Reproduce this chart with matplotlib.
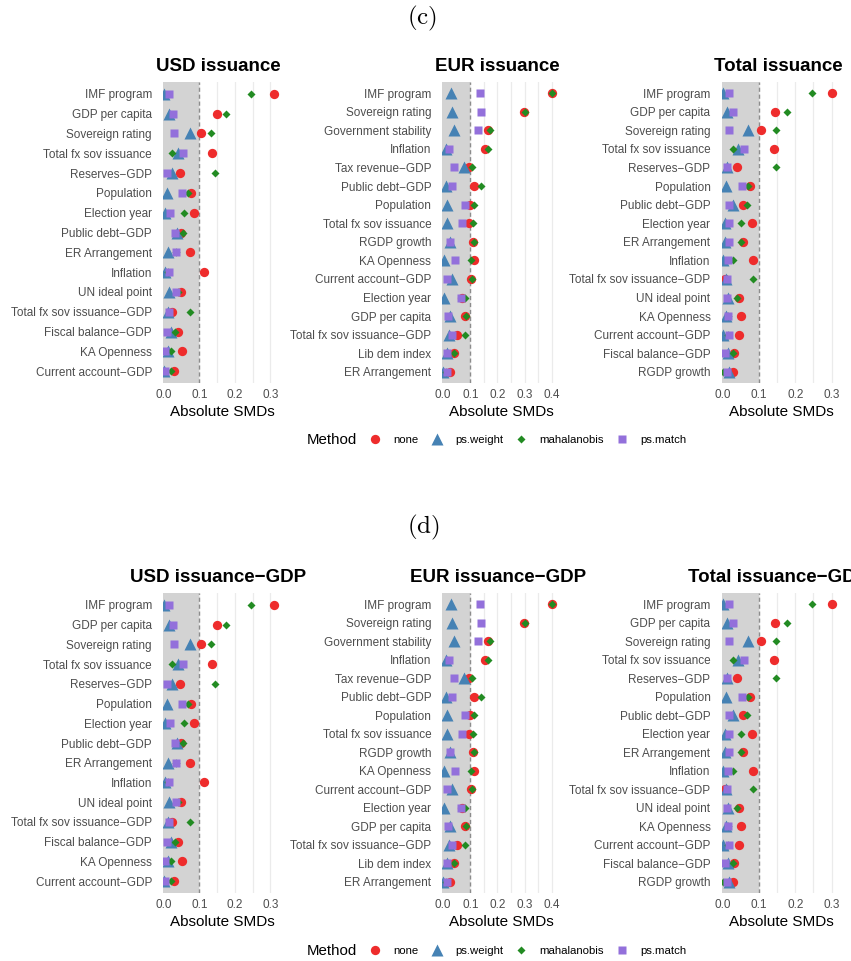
import matplotlib
matplotlib.use("Agg")
import matplotlib.pyplot as plt
import numpy as np
from matplotlib.lines import Line2D

plt.rcParams["font.family"] = ["Liberation Sans", "DejaVu Sans"]
plt.rcParams["mathtext.fontset"] = "cm"

# ── data (absolute SMDs per covariate) ───────────────────────────────────
METHODS = ["none", "ps.weight", "mahalanobis", "ps.match"]

USD_VARS = ["IMF program", "GDP per capita", "Sovereign rating", "Total fx sov issuance",
            "Reserves−GDP", "Population", "Election year", "Public debt−GDP",
            "ER Arrangement", "Inflation", "UN ideal point", "Total fx sov issuance−GDP",
            "Fiscal balance−GDP", "KA Openness", "Current account−GDP"]
USD_NONE = [0.310, 0.150, 0.104, 0.136, 0.045, 0.077, 0.084, 0.048, 0.072, 0.113, 0.049, 0.023, 0.040, 0.052, 0.028]
USD_WEIGHT = [0.000, 0.014, 0.074, 0.040, 0.022, 0.009, 0.003, 0.036, 0.010, 0.003, 0.015, 0.010, 0.019, 0.012, 0.000]
USD_MAHAL = [0.245, 0.176, 0.133, 0.023, 0.143, 0.067, 0.057, 0.053, 0.033, 0.012, 0.040, 0.072, 0.030, 0.020, 0.019]
USD_MATCH = [0.015, 0.026, 0.029, 0.054, 0.007, 0.052, 0.018, 0.031, 0.035, 0.013, 0.033, 0.015, 0.009, 0.004, 0.004]

EUR_VARS = ["IMF program", "Sovereign rating", "Government stability", "Inflation",
            "Tax revenue−GDP", "Public debt−GDP", "Population", "Total fx sov issuance",
            "RGDP growth", "KA Openness", "Current account−GDP", "Election year",
            "GDP per capita", "Total fx sov issuance−GDP", "Lib dem index", "ER Arrangement"]
EUR_NONE = [0.400, 0.299, 0.165, 0.156, 0.096, 0.113, 0.099, 0.094, 0.111, 0.113, 0.102, 0.068, 0.082, 0.050, 0.040, 0.025]
EUR_WEIGHT = [0.028, 0.031, 0.041, 0.009, 0.078, 0.009, 0.013, 0.015, 0.025, 0.003, 0.031, 0.004, 0.025, 0.020, 0.013, 0.000]
EUR_MAHAL = [0.403, 0.301, 0.172, 0.166, 0.105, 0.138, 0.112, 0.111, 0.112, 0.102, 0.106, 0.081, 0.084, 0.080, 0.039, 0.010]
EUR_MATCH = [0.136, 0.140, 0.129, 0.023, 0.041, 0.033, 0.080, 0.070, 0.025, 0.044, 0.015, 0.066, 0.019, 0.034, 0.015, 0.015]

TOT_VARS = ["IMF program", "GDP per capita", "Sovereign rating", "Total fx sov issuance",
            "Reserves−GDP", "Population", "Public debt−GDP", "Election year",
            "ER Arrangement", "Inflation", "Total fx sov issuance−GDP", "UN ideal point",
            "KA Openness", "Current account−GDP", "Fiscal balance−GDP", "RGDP growth"]
TOT_NONE = [0.300, 0.144, 0.106, 0.141, 0.040, 0.076, 0.056, 0.080, 0.057, 0.083, 0.005, 0.045, 0.050, 0.046, 0.032, 0.029]
TOT_WEIGHT = [0.000, 0.011, 0.069, 0.041, 0.011, 0.009, 0.029, 0.006, 0.006, 0.000, 0.008, 0.016, 0.008, 0.000, 0.016, 0.018]
TOT_MAHAL = [0.245, 0.177, 0.146, 0.028, 0.146, 0.070, 0.068, 0.050, 0.051, 0.028, 0.083, 0.039, 0.015, 0.015, 0.028, 0.000]
TOT_MATCH = [0.018, 0.029, 0.018, 0.060, 0.013, 0.054, 0.018, 0.017, 0.018, 0.016, 0.011, 0.013, 0.016, 0.017, 0.006, 0.013]

STYLE = {
    "none": dict(marker="o", color="#EE2C2C", ms=6.7),
    "ps.weight": dict(marker="^", color="#4682B4", ms=8.2),
    "mahalanobis": dict(marker="D", color="#228B22", ms=3.9),
    "ps.match": dict(marker="s", color="#9370DB", ms=6.2),
}

W, H = 851, 961
XMIN = -0.003


def px_axes(fig, left, right, top, bottom):
    return fig.add_axes([left / W, 1 - bottom / H, (right - left) / W, (bottom - top) / H])


def draw_panel(ax, title, variables, series, xmax):
    n = len(variables)
    ypos = np.arange(n, 0, -1)
    for g in np.arange(0.05, xmax, 0.05):
        ax.axvline(g, color="#EBEBEB", lw=0.9, zorder=0)
    ax.axvspan(XMIN, 0.1, color="#D3D3D3", lw=0, zorder=1)
    ax.axvline(0.1, color="#8C8C8C", ls=(0, (3, 2)), lw=1.0, zorder=2)
    for m, vals in zip(METHODS, series):
        st = STYLE[m]
        ax.plot(vals, ypos, linestyle="none", marker=st["marker"], ms=st["ms"],
                color=st["color"], mec="none", zorder=3)
    ax.set_xlim(XMIN, xmax)
    ax.set_ylim(0.4, n + 0.6)
    ax.set_yticks(ypos, variables)
    ticks = np.arange(0, xmax, 0.1)
    ax.set_xticks(ticks, [f"{t:.1f}" for t in ticks])
    ax.tick_params(length=0, colors="#4D4D4D", labelsize=8.5)
    ax.tick_params(axis="y", pad=8)
    ax.tick_params(axis="x", pad=4.5)
    for s in ax.spines.values():
        s.set_visible(False)
    ax.set_facecolor("white")
    ax.set_xlabel("Absolute SMDs", fontsize=11, color="black", labelpad=2.5)
    ax.set_title(title, fontsize=13.5, fontweight="bold", pad=8, x=0.47)


fig = plt.figure(figsize=(W / 100, H / 100), dpi=100)

panels = [
    ((163, 281), 0.330, USD_VARS, [USD_NONE, USD_WEIGHT, USD_MAHAL, USD_MATCH], "USD issuance"),
    ((442.4, 560), 0.431, EUR_VARS, [EUR_NONE, EUR_WEIGHT, EUR_MAHAL, EUR_MATCH], "EUR issuance"),
    ((721.6, 841.7), 0.328, TOT_VARS, [TOT_NONE, TOT_WEIGHT, TOT_MAHAL, TOT_MATCH], "Total issuance"),
]

for (top, bottom), suffix in [((82, 383), ""), ((593, 893), "−GDP")]:
    for (l, r), xmax, vars_, series, title in panels:
        ax = px_axes(fig, l, r, top, bottom)
        draw_panel(ax, title + suffix, vars_, series, xmax)

fig.text(422.5 / W, 1 - 18.3 / H, r"$\mathrm{(c)}$", fontsize=18, ha="center", va="center")
fig.text(423.3 / W, 1 - 527.5 / H, r"$\mathrm{(d)}$", fontsize=18, ha="center", va="center")

handles = [Line2D([], [], linestyle="none", marker=STYLE[m]["marker"], ms=STYLE[m]["ms"],
                  color=STYLE[m]["color"], mec="none") for m in METHODS]
for yc in (440, 950.7):
    fig.text(306.7 / W, 1 - yc / H, "Method", fontsize=10.8, ha="left", va="center")
    fig.legend(handles, METHODS, ncol=4, loc="center left", bbox_to_anchor=(369.5 / W, 1 - yc / H),
               frameon=False, fontsize=8.2, handlelength=1.0, handletextpad=1.1,
               columnspacing=1.1, borderaxespad=0, borderpad=0)

fig.savefig("out.png", dpi=100, facecolor="white")
